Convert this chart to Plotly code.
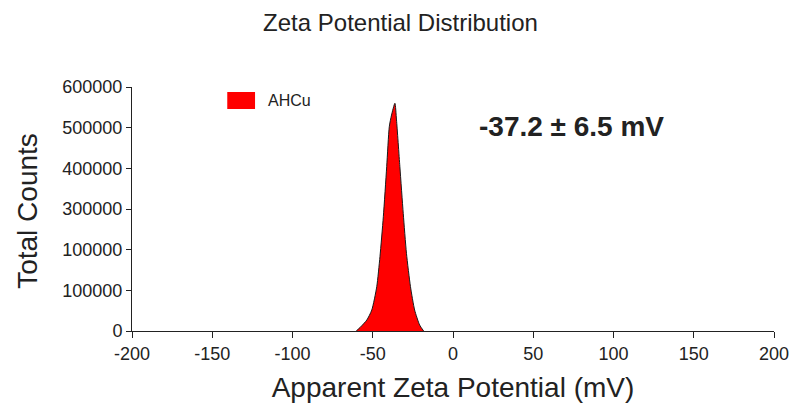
import plotly.graph_objects as go

# Data
zeta_mv = [-60.3, -57.8, -53.7, -50.6, -47.5, -45.5, -43.4, -41.3, -39.7, -38.3, -36.2,
           -35.2, -33.1, -31.0, -29.0, -26.5, -23.9, -20.8, -18.3]
counts = [0, 9000, 27000, 51600, 109000, 183000, 281000, 404000, 502000, 531000, 560000,
          519000, 404000, 289000, 191000, 109000, 51600, 14800, 0]

x_ticks = [-200, -150, -100, -50, 0, 50, 100, 150, 200]
x_tick_text = ["-200", "-150", "-100", "-50", "0", "50", "100", "150", "200"]
y_ticks = [0, 100000, 200000, 300000, 400000, 500000, 600000]
y_tick_text = ["0", "100000", "100000", "300000", "400000", "500000", "600000"]

series_name = "AHCu"
result_label = "-37.2 ± 6.5 mV"

FONT = "Arial, Liberation Sans, sans-serif"
INK = "#222222"

L, R, T, B = 132, 22, 87, 83
PW = 801 - L - R
PH = 414 - T - B


def px_x(p):
    return (p - L) / PW


def px_y(p):
    return (T + PH - p) / PH


fig = go.Figure()
fig.add_trace(go.Scatter(
    x=zeta_mv, y=counts, mode="lines", fill="tozeroy",
    fillcolor="#FF0000", line=dict(color="#1a1a1a", width=1, shape="spline", smoothing=0.6),
    name=series_name, showlegend=False,
))

fig.update_layout(
    width=801, height=414,
    margin=dict(l=L, r=R, t=T, b=B),
    paper_bgcolor="white", plot_bgcolor="white",
    font=dict(family=FONT, color=INK, size=18),
    title=dict(text="Zeta Potential Distribution", x=0.5, xref="container", xanchor="center",
               y=0.945, yref="container", yanchor="middle",
               font=dict(size=24, color=INK, family=FONT)),
    xaxis=dict(range=[-200, 200], tickvals=x_ticks, ticktext=x_tick_text,
               showgrid=False, zeroline=False, showline=True, linecolor=INK, linewidth=1,
               ticks="outside", ticklen=6, tickcolor=INK,
               tickfont=dict(size=18, color=INK),
               title=dict(text="Apparent Zeta Potential (mV)", font=dict(size=28, color=INK), standoff=14)),
    yaxis=dict(range=[0, 600000], tickvals=y_ticks, ticktext=y_tick_text,
               showgrid=False, zeroline=False, showline=True, linecolor=INK, linewidth=1,
               ticks="outside", ticklen=5, tickcolor=INK,
               tickfont=dict(size=18, color=INK)),
)

# y-axis title
fig.add_annotation(xref="paper", yref="paper", x=px_x(26), y=px_y(211),
                   text="Total Counts", textangle=-90, showarrow=False,
                   xanchor="center", yanchor="middle",
                   font=dict(size=28, color=INK, family=FONT))

# legend swatch and label
fig.add_shape(type="rect", xref="paper", yref="paper",
              x0=px_x(228), x1=px_x(256), y0=px_y(109), y1=px_y(92),
              fillcolor="#FF0000", line=dict(width=0))
fig.add_annotation(xref="paper", yref="paper", x=px_x(267), y=px_y(101),
                   text=series_name, showarrow=False, xanchor="left", yanchor="middle",
                   font=dict(size=16, color=INK, family=FONT))
fig.add_annotation(xref="paper", yref="paper", x=px_x(575), y=px_y(126),
                   text="<b>" + result_label + "</b>", showarrow=False, xanchor="center", yanchor="middle",
                   font=dict(size=28, color=INK, family=FONT))

fig.write_html("out.html")
